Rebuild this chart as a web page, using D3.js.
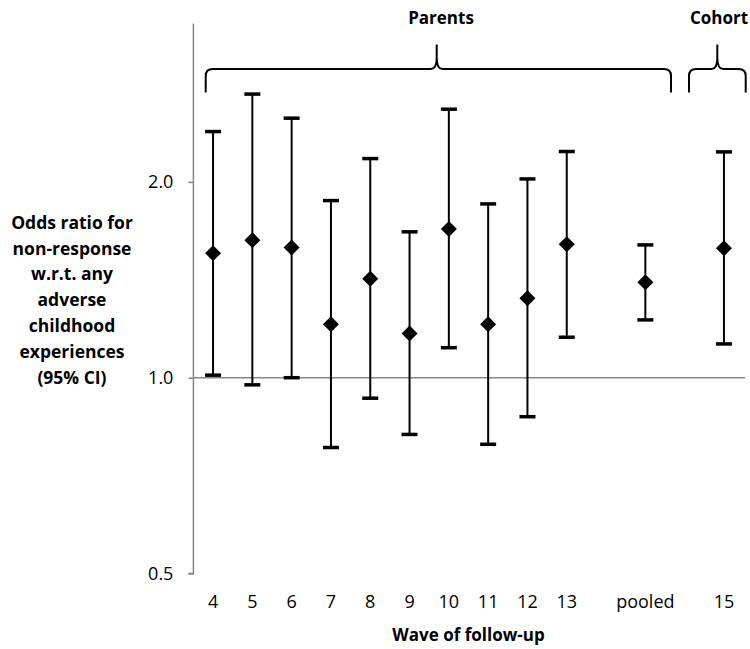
<!DOCTYPE html>
<html>
<head>
<meta charset="utf-8">
<script src="https://cdn.jsdelivr.net/npm/d3@7"></script>
<style>
  body { margin: 0; background: #fff; }
  text { font-family: "Open Sans", sans-serif; fill: #000; }
</style>
</head>
<body>
<svg id="chart" width="750" height="649"></svg>
<script>
// Waves of follow-up (blank ids are empty slots on the axis)
const categories = ["4", "5", "6", "7", "8", "9", "10", "11", "12", "13", "gapA", "pooled", "gapB", "15"];
const waves = ["4", "5", "6", "7", "8", "9", "10", "11", "12", "13", "pooled", "15"];
// Odds ratios and 95% CI bounds
const oddsRatio = [1.554, 1.627, 1.585, 1.208, 1.419, 1.169, 1.693, 1.208, 1.325, 1.604, 1.402, 1.581];
const ciLower   = [1.009, 0.975, 1.000, 0.781, 0.930, 0.818, 1.112, 0.790, 0.871, 1.154, 1.227, 1.127];
const ciUpper   = [2.390, 2.729, 2.506, 1.872, 2.172, 1.676, 2.587, 1.850, 2.021, 2.227, 1.600, 2.224];
const yTicks = [0.5, 1.0, 2.0];
const yTitle = ["Odds ratio for", "non-response", "w.r.t. any", "adverse", "childhood", "experiences", "(95% CI)"];

const data = waves.map((w, i) => ({ wave: w, or: oddsRatio[i], lo: ciLower[i], hi: ciUpper[i] }));

const svg = d3.select("#chart");
const plotLeft = 193.4, plotRight = 743.6, plotTop = 23.8, plotBottom = 573.5;

const x = d3.scaleBand().domain(categories).range([plotLeft, plotRight]).padding(0);
const y = d3.scaleLog().base(2).domain([0.5, 3.5]).range([plotBottom, plotTop]);
const cx = d => x(d) + x.bandwidth() / 2;

// y axis
const yAxis = svg.append("g")
  .attr("transform", `translate(${plotLeft},0)`)
  .call(d3.axisLeft(y).tickValues(yTicks).tickFormat(d3.format(".1f")).tickSize(5).tickPadding(15));
yAxis.select(".domain").attr("stroke", "#868686").attr("stroke-width", 1.5).attr("d", `M-5,${plotBottom}H0V${plotTop}`);
yAxis.selectAll(".tick line").attr("stroke", "#868686").attr("stroke-width", 1.5);
yAxis.selectAll(".tick text").style("font-size", "18px").attr("fill", "#000").attr("font-family", "Open Sans");

// reference line at OR = 1
svg.append("line")
  .attr("x1", plotLeft).attr("x2", 745)
  .attr("y1", y(1)).attr("y2", y(1))
  .attr("stroke", "#868686").attr("stroke-width", 1.5);

// x axis labels (no line)
const xAxis = svg.append("g")
  .attr("transform", `translate(0,${plotBottom})`)
  .call(d3.axisBottom(x).tickSize(0).tickPadding(21.5).tickFormat(d => d.startsWith("gap") ? "" : d));
xAxis.select(".domain").remove();
xAxis.selectAll(".tick text").style("font-size", "18px").attr("fill", "#000").attr("font-family", "Open Sans");

// error bars
const bars = svg.append("g").selectAll("g").data(data).join("g");
bars.append("line")
  .attr("x1", d => cx(d.wave)).attr("x2", d => cx(d.wave))
  .attr("y1", d => y(d.lo)).attr("y2", d => y(d.hi))
  .attr("stroke", "#000").attr("stroke-width", 2);
bars.selectAll("line.cap")
  .data(d => [{ w: d.wave, v: d.lo }, { w: d.wave, v: d.hi }])
  .join("line").attr("class", "cap")
  .attr("x1", d => cx(d.w) - 8).attr("x2", d => cx(d.w) + 8)
  .attr("y1", d => y(d.v)).attr("y2", d => y(d.v))
  .attr("stroke", "#000").attr("stroke-width", 3.5);
bars.append("path")
  .attr("d", d3.symbol(d3.symbolSquare, 128))
  .attr("transform", d => `translate(${cx(d.wave)},${y(d.or)}) rotate(45)`)
  .attr("fill", "#000");

// braces
function brace(x0, x1, xm) {
  const yb = 69, yd = 92.5, yt = 44.5, r = 7;
  return `M${x0},${yd} L${x0},${yb + r} Q${x0},${yb} ${x0 + r},${yb} L${xm - 6},${yb} Q${xm},${yb} ${xm},${yb - 11} L${xm},${yt}` +
         ` M${xm},${yb - 11} Q${xm},${yb} ${xm + 6},${yb} L${x1 - r},${yb} Q${x1},${yb} ${x1},${yb + r} L${x1},${yd}`;
}
svg.append("path").attr("d", brace(205.7, 671, 436.7))
  .attr("fill", "none").attr("stroke", "#000").attr("stroke-width", 2);
svg.append("path").attr("d", brace(689, 745.7, 717.3))
  .attr("fill", "none").attr("stroke", "#000").attr("stroke-width", 2);

svg.append("text").attr("x", 441).attr("y", 24).attr("text-anchor", "middle")
  .style("font-size", "17px").style("font-weight", "bold").text("Parents");
svg.append("text").attr("x", 719).attr("y", 24).attr("text-anchor", "middle")
  .style("font-size", "17px").style("font-weight", "bold").text("Cohort");

// axis titles
svg.append("text").attr("x", (plotLeft + plotRight) / 2).attr("y", 641).attr("text-anchor", "middle")
  .style("font-size", "17px").style("font-weight", "bold").text("Wave of follow-up");

svg.append("g").selectAll("text").data(yTitle).join("text")
  .attr("x", 72).attr("y", (d, i) => 228.6 + i * 25.9)
  .attr("text-anchor", "middle")
  .style("font-size", "17.5px").style("font-weight", "bold")
  .text(d => d);
</script>
</body>
</html>
